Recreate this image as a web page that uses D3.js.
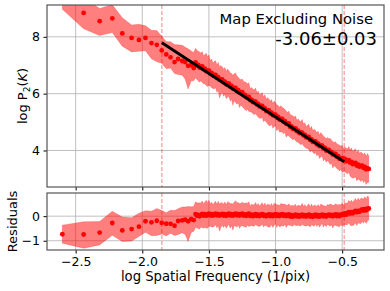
<!DOCTYPE html>
<html>
<head>
<meta charset="utf-8">
<script src="https://cdn.jsdelivr.net/npm/d3@7"></script>
<style>
  body { margin: 0; background: #fff; }
  text { font-family: "DejaVu Sans", sans-serif; }
</style>
</head>
<body>
<div id="chart"></div>
<script>
// log spatial frequency of each bin (sparse at low k, dense towards Nyquist)
const logFreq = [
  -2.600, -2.440, -2.320, -2.225, -2.150, -2.080, -2.025, -1.976, -1.931, -1.891,
  -1.854, -1.820, -1.788, -1.758, -1.731, -1.700, -1.678, -1.656, -1.633, -1.614,
  -1.60, -1.59, -1.58, -1.57, -1.56, -1.55, -1.54, -1.53, -1.52, -1.51,
  -1.50, -1.49, -1.48, -1.47, -1.46, -1.45, -1.44, -1.43, -1.42, -1.41,
  -1.40, -1.39, -1.38, -1.37, -1.36, -1.35, -1.34, -1.33, -1.32, -1.31,
  -1.30, -1.29, -1.28, -1.27, -1.26, -1.25, -1.24, -1.23, -1.22, -1.21,
  -1.20, -1.19, -1.18, -1.17, -1.16, -1.15, -1.14, -1.13, -1.12, -1.11,
  -1.10, -1.09, -1.08, -1.07, -1.06, -1.05, -1.04, -1.03, -1.02, -1.01,
  -1.00, -0.99, -0.98, -0.97, -0.96, -0.95, -0.94, -0.93, -0.92, -0.91,
  -0.90, -0.89, -0.88, -0.87, -0.86, -0.85, -0.84, -0.83, -0.82, -0.81,
  -0.80, -0.79, -0.78, -0.77, -0.76, -0.75, -0.74, -0.73, -0.72, -0.71,
  -0.70, -0.69, -0.68, -0.67, -0.66, -0.65, -0.64, -0.63, -0.62, -0.61,
  -0.60, -0.59, -0.58, -0.57, -0.56, -0.55, -0.54, -0.53, -0.52, -0.51,
  -0.50, -0.49, -0.48, -0.47, -0.46, -0.45, -0.44, -0.43, -0.42, -0.41,
  -0.40, -0.39, -0.38, -0.37, -0.36, -0.35, -0.34, -0.33, -0.32, -0.31,
  -0.30
];

// log P2(K)
const logPower = [
  9.34, 8.84, 8.55, 8.65, 8.12, 7.96, 7.89, 7.96, 7.78, 7.72,
  7.52, 7.38, 7.28, 7.11, 7.22, 7.15, 7.11, 6.98, 7.00, 6.90,
  7.10, 7.00, 7.01, 6.92, 6.94, 6.96, 6.86, 6.88, 6.79, 6.81,
  6.81, 6.71, 6.73, 6.64, 6.66, 6.66, 6.56, 6.58, 6.49, 6.50,
  6.50, 6.40, 6.42, 6.33, 6.35, 6.35, 6.25, 6.27, 6.18, 6.20,
  6.20, 6.10, 6.12, 6.03, 6.05, 6.05, 5.94, 5.96, 5.87, 5.89,
  5.89, 5.77, 5.79, 5.70, 5.72, 5.72, 5.62, 5.64, 5.55, 5.57,
  5.57, 5.47, 5.48, 5.39, 5.41, 5.41, 5.31, 5.33, 5.24, 5.26,
  5.26, 5.16, 5.18, 5.09, 5.11, 5.11, 5.01, 5.03, 4.94, 4.95,
  4.95, 4.83, 4.85, 4.76, 4.78, 4.78, 4.68, 4.70, 4.61, 4.63,
  4.63, 4.53, 4.55, 4.46, 4.48, 4.48, 4.37, 4.39, 4.30, 4.32,
  4.32, 4.22, 4.24, 4.15, 4.17, 4.17, 4.07, 4.09, 4.00, 4.02,
  4.02, 3.94, 3.95, 3.86, 3.88, 3.88, 3.78, 3.80, 3.71, 3.73,
  3.73, 3.67, 3.70, 3.62, 3.65, 3.66, 3.57, 3.60, 3.52, 3.55,
  3.56, 3.47, 3.50, 3.43, 3.46, 3.47, 3.39, 3.42, 3.34, 3.37,
  3.35
];

// error band below and above the points (log units)
const errLow = [
  0.37, 0.56, 0.50, 0.50, 0.45, 0.49, 0.40, 0.45, 0.55, 0.60,
  0.45, 0.50, 0.38, 0.40, 0.55, 0.50, 0.60, 0.82, 0.55, 0.45,
  0.54, 0.50, 0.56, 0.52, 0.49, 0.57, 0.51, 0.54, 0.50, 0.56,
  0.52, 0.44, 0.52, 0.46, 0.49, 0.45, 0.51, 0.47, 0.64, 0.52,
  0.46, 0.49, 0.45, 0.51, 0.47, 0.44, 0.52, 0.46, 0.59, 0.45,
  0.51, 0.47, 0.44, 0.52, 0.46, 0.49, 0.45, 0.51, 0.47, 0.44,
  0.52, 0.41, 0.44, 0.40, 0.46, 0.42, 0.39, 0.47, 0.41, 0.44,
  0.40, 0.46, 0.42, 0.39, 0.47, 0.53, 0.44, 0.40, 0.46, 0.42,
  0.39, 0.47, 0.41, 0.44, 0.46, 0.46, 0.42, 0.39, 0.47, 0.41,
  0.44, 0.37, 0.43, 0.39, 0.36, 0.44, 0.38, 0.41, 0.37, 0.43,
  0.39, 0.36, 0.44, 0.38, 0.41, 0.45, 0.43, 0.39, 0.36, 0.44,
  0.38, 0.41, 0.37, 0.43, 0.39, 0.36, 0.44, 0.38, 0.41, 0.37,
  0.43, 0.43, 0.40, 0.48, 0.42, 0.45, 0.41, 0.47, 0.43, 0.40,
  0.48, 0.42, 0.45, 0.41, 0.47, 0.43, 0.47, 0.55, 0.49, 0.52,
  0.48, 0.54, 0.50, 0.47, 0.55, 0.49, 0.52, 0.48, 0.54, 0.50,
  0.47
];
const errHigh = [
  0.37, 0.52, 0.45, 0.48, 0.55, 0.46, 0.55, 0.43, 0.45, 0.50,
  0.50, 0.45, 0.55, 0.62, 0.50, 0.55, 0.52, 0.60, 0.50, 0.55,
  0.50, 0.53, 0.48, 0.55, 0.49, 0.52, 0.47, 0.50, 0.63, 0.48,
  0.55, 0.46, 0.49, 0.44, 0.47, 0.50, 0.45, 0.52, 0.46, 0.49,
  0.44, 0.47, 0.50, 0.45, 0.52, 0.46, 0.49, 0.44, 0.47, 0.50,
  0.53, 0.52, 0.46, 0.49, 0.44, 0.47, 0.50, 0.45, 0.52, 0.46,
  0.49, 0.40, 0.43, 0.46, 0.41, 0.48, 0.42, 0.45, 0.40, 0.43,
  0.46, 0.41, 0.48, 0.42, 0.45, 0.40, 0.43, 0.46, 0.41, 0.48,
  0.42, 0.45, 0.40, 0.43, 0.46, 0.41, 0.48, 0.42, 0.45, 0.40,
  0.43, 0.44, 0.39, 0.46, 0.40, 0.43, 0.38, 0.41, 0.44, 0.39,
  0.46, 0.40, 0.43, 0.38, 0.41, 0.44, 0.39, 0.46, 0.40, 0.43,
  0.38, 0.41, 0.44, 0.39, 0.46, 0.40, 0.43, 0.38, 0.41, 0.44,
  0.39, 0.48, 0.42, 0.45, 0.40, 0.43, 0.46, 0.41, 0.48, 0.42,
  0.45, 0.40, 0.43, 0.46, 0.41, 0.48, 0.46, 0.49, 0.44, 0.47,
  0.50, 0.45, 0.52, 0.46, 0.49, 0.44, 0.47, 0.50, 0.45, 0.52,
  0.46
];

// power-law fit
const fitSlope = -3.06;
const fitIntercept = 2.12;
const fitRange = [-1.853, -0.485];   // also where the dashed lines sit

const xTicks = [-2.5, -2.0, -1.5, -1.0, -0.5];
const powerTicks = [4, 6, 8];
const residTicks = [-1, 0];

const title = "Map Excluding Noise";
const slopeLabel = "-3.06\u00b10.03";

const FRAME_WIDTH = 390;
const FRAME_HEIGHT = 291;
const TOP_BOX = {left: 47, right: 384, top: 5, bottom: 187};
const BOT_BOX = {left: 47, right: 384, top: 193, bottom: 250};

const X_SCALE = d3.scaleLinear().domain([-2.715, -0.186]).range([TOP_BOX.left, TOP_BOX.right]);
const Y_TOP = d3.scaleLinear().domain([2.715, 9.12]).range([TOP_BOX.bottom, TOP_BOX.top]);
const Y_BOT = d3.scaleLinear().domain([-1.377, 0.943]).range([BOT_BOX.bottom, BOT_BOX.top]);

const fit = (x) => fitIntercept + fitSlope * x;

const data = logFreq.map((x, i) => ({
  x: x,
  p: logPower[i],
  r: logPower[i] - fit(x),
  lo: errLow[i],
  hi: errHigh[i]
}));

const SVG = d3.select("#chart")
  .append("svg")
    .attr("width", FRAME_WIDTH)
    .attr("height", FRAME_HEIGHT);

function drawPanel(box, yScale, yTicks, key, id, showXLabels) {
  SVG.append("clipPath")
      .attr("id", id)
    .append("rect")
      .attr("x", box.left)
      .attr("y", box.top)
      .attr("width", box.right - box.left)
      .attr("height", box.bottom - box.top);

  const g = SVG.append("g").attr("clip-path", "url(#" + id + ")");

  // grid
  g.selectAll(".vgrid")
    .data(xTicks)
    .enter()
    .append("line")
      .attr("x1", (d) => X_SCALE(d))
      .attr("x2", (d) => X_SCALE(d))
      .attr("y1", box.top)
      .attr("y2", box.bottom)
      .attr("stroke", "#b0b0b0")
      .attr("stroke-width", 0.8);

  g.selectAll(".hgrid")
    .data(yTicks)
    .enter()
    .append("line")
      .attr("x1", box.left)
      .attr("x2", box.right)
      .attr("y1", (d) => yScale(d))
      .attr("y2", (d) => yScale(d))
      .attr("stroke", "#b0b0b0")
      .attr("stroke-width", 0.8);

  // error band
  const band = d3.area()
    .x((d) => X_SCALE(d.x))
    .y0((d) => yScale(d[key] - d.lo))
    .y1((d) => yScale(d[key] + d.hi));

  g.append("path")
    .datum(data)
    .attr("d", band)
    .attr("fill", "#ff0000")
    .attr("fill-opacity", 0.5)
    .attr("stroke", "#ff0000")
    .attr("stroke-opacity", 0.35)
    .attr("stroke-width", 0.6);

  // dashed limits of the fit
  g.selectAll(".cut")
    .data(fitRange)
    .enter()
    .append("line")
      .attr("x1", (d) => X_SCALE(d))
      .attr("x2", (d) => X_SCALE(d))
      .attr("y1", box.top)
      .attr("y2", box.bottom)
      .attr("stroke", "#ff0000")
      .attr("stroke-opacity", 0.5)
      .attr("stroke-width", 1)
      .attr("stroke-dasharray", "4,2");

  // points
  g.selectAll("circle")
    .data(data)
    .enter()
    .append("circle")
      .attr("cx", (d) => X_SCALE(d.x))
      .attr("cy", (d) => yScale(d[key]))
      .attr("r", 2.4)
      .attr("fill", "#ff0000");

  // axes
  const xAxis = d3.axisBottom(X_SCALE)
    .tickValues(xTicks)
    .tickSize(3.5)
    .tickPadding(3.5)
    .tickFormat(showXLabels ? d3.format(".1f") : "");

  SVG.append("g")
    .attr("transform", "translate(0," + box.bottom + ")")
    .call(xAxis)
    .call((a) => a.select(".domain").remove())
    .attr("font-size", "12.5px")
    .attr("font-family", "DejaVu Sans");

  SVG.append("g")
    .attr("transform", "translate(" + box.left + ",0)")
    .call(d3.axisLeft(yScale).tickValues(yTicks).tickSize(3.5).tickPadding(3.5).tickFormat(d3.format("d")))
    .call((a) => a.select(".domain").remove())
    .attr("font-size", "12.5px")
    .attr("font-family", "DejaVu Sans");

  return g;
}

const topG = drawPanel(TOP_BOX, Y_TOP, powerTicks, "p", "clip-top", false);
drawPanel(BOT_BOX, Y_BOT, residTicks, "r", "clip-bot", true);

// fit line
topG.append("path")
  .datum(fitRange)
  .attr("d", d3.line().x((d) => X_SCALE(d)).y((d) => Y_TOP(fit(d))))
  .attr("stroke", "#000")
  .attr("stroke-width", 2.8)
  .attr("fill", "none");

// frames
[TOP_BOX, BOT_BOX].forEach((b) => {
  SVG.append("rect")
    .attr("x", b.left)
    .attr("y", b.top)
    .attr("width", b.right - b.left)
    .attr("height", b.bottom - b.top)
    .attr("fill", "none")
    .attr("stroke", "#555")
    .attr("stroke-width", 1.2);
});

// annotation
SVG.append("text")
  .attr("x", 373)
  .attr("y", 24)
  .attr("text-anchor", "end")
  .attr("font-size", "14.8px")
  .text(title);

SVG.append("text")
  .attr("x", 377)
  .attr("y", 45)
  .attr("text-anchor", "end")
  .attr("font-size", "18px")
  .text(slopeLabel);

// axis labels
const yLab = SVG.append("text")
  .attr("transform", "translate(27," + ((TOP_BOX.top + TOP_BOX.bottom) / 2) + ") rotate(-90)")
  .attr("text-anchor", "middle")
  .attr("font-size", "13px");
yLab.append("tspan").text("log P");
yLab.append("tspan").attr("font-size", "9px").attr("dy", 3).text("2");
yLab.append("tspan").attr("dy", -3).text("(");
yLab.append("tspan").attr("font-style", "italic").text("K");
yLab.append("tspan").text(")");

SVG.append("text")
  .attr("transform", "translate(17," + ((BOT_BOX.top + BOT_BOX.bottom) / 2) + ") rotate(-90)")
  .attr("text-anchor", "middle")
  .attr("font-size", "13px")
  .text("Residuals");

SVG.append("text")
  .attr("x", (TOP_BOX.left + TOP_BOX.right) / 2)
  .attr("y", 281)
  .attr("text-anchor", "middle")
  .attr("font-size", "13.2px")
  .text("log Spatial Frequency (1/pix)");
</script>
</body>
</html>
